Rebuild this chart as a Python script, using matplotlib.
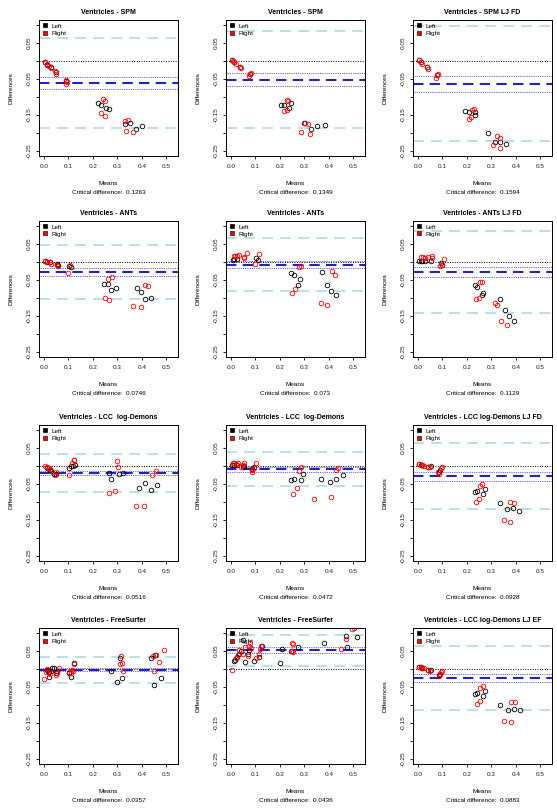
import matplotlib
matplotlib.use("Agg")
import matplotlib.pyplot as plt
from matplotlib.lines import Line2D

plt.rcParams['font.family'] = ['Liberation Sans', 'DejaVu Sans']

TITLES = ["Ventricles - SPM", "Ventricles - SPM", "Ventricles - SPM LJ FD",
          "Ventricles - ANTs", "Ventricles - ANTs", "Ventricles - ANTs LJ FD",
          "Ventricles - LCC  log-Demons", "Ventricles - LCC  log-Demons", "Ventricles - LCC log-Demons LJ FD",
          "Ventricles - FreeSurfer", "Ventricles - FreeSurfer", "Ventricles - LCC log-Demons LJ EF"]
CRIT_DIFF = ["0.1263", "0.1349", "0.1594", "0.0746", "0.073", "0.1129",
             "0.0516", "0.0472", "0.0928", "0.0357", "0.0436", "0.0883"]
BIAS = [-0.061, -0.052, -0.063, -0.027, -0.0075, -0.0275,
        -0.0195, -0.009, -0.028, -0.002, 0.052, -0.025]
CI_HALF = [0.016, 0.018, 0.022, 0.011, 0.009, 0.015,
           0.0065, 0.007, 0.0125, 0.004, 0.008, 0.0115]

X_TICKS = [0.0, 0.1, 0.2, 0.3, 0.4, 0.5]
X_TICK_LABELS = ["0.0", "0.1", "0.2", "0.3", "0.4", "0.5"]
Y_TICKS = [0.1, 0.05, 0.0, -0.05, -0.1, -0.15, -0.2, -0.25]
Y_TICK_LABELS = ["", "0.05", "", "-0.05", "", "-0.15", "", "-0.25"]

# Panel 1
P1_LX = [0.004, 0.014, 0.027, 0.048, 0.09, 0.223, 0.234, 0.253, 0.268, 0.333, 0.353, 0.378, 0.401]
P1_LY = [-0.004, -0.011, -0.018, -0.031, -0.055, -0.118, -0.123, -0.131, -0.134, -0.175, -0.171, -0.188, -0.182]
P1_RX = [0.004, 0.012, 0.02, 0.028, 0.047, 0.049, 0.09, 0.096, 0.09, 0.240, 0.251, 0.233, 0.248, 0.333, 0.344, 0.336, 0.364]
P1_RY = [-0.004, -0.009, -0.014, -0.019, -0.029, -0.035, -0.052, -0.057, -0.065, -0.106, -0.111, -0.145, -0.152, -0.167, -0.165, -0.194, -0.197]
# Panel 2
P2_LX = [0.004, 0.014, 0.038, 0.079, 0.204, 0.215, 0.238, 0.247, 0.299, 0.326, 0.353, 0.383]
P2_LY = [0.004, -0.002, -0.016, -0.037, -0.123, -0.123, -0.131, -0.118, -0.172, -0.190, -0.181, -0.179]
P2_RX = [0.004, 0.009, 0.014, 0.020, 0.038, 0.041, 0.075, 0.079, 0.082, 0.228, 0.234, 0.217, 0.231, 0.303, 0.317, 0.288, 0.323]
P2_RY = [0.004, 0.0005, -0.002, -0.007, -0.016, -0.019, -0.041, -0.037, -0.034, -0.108, -0.112, -0.140, -0.135, -0.172, -0.174, -0.198, -0.202]
# Panel 3
P3_LX = [0.004, 0.011, 0.039, 0.079, 0.194, 0.208, 0.232, 0.234, 0.287, 0.314, 0.337, 0.360]
P3_LY = [0.002, -0.003, -0.017, -0.040, -0.140, -0.141, -0.143, -0.150, -0.201, -0.224, -0.224, -0.231]
P3_RX = [0.004, 0.011, 0.018, 0.039, 0.042, 0.079, 0.083, 0.075, 0.221, 0.228, 0.208, 0.215, 0.323, 0.337, 0.308, 0.334]
P3_RY = [0.002, -0.003, -0.008, -0.017, -0.022, -0.040, -0.035, -0.046, -0.135, -0.133, -0.161, -0.156, -0.209, -0.215, -0.233, -0.243]
# Panel 4
P4_LX = [0.004, 0.014, 0.025, 0.055, 0.058, 0.103, 0.110, 0.244, 0.260, 0.274, 0.295, 0.381, 0.395, 0.415, 0.438]
P4_LY = [0.002, 0.001, -0.001, -0.005, -0.007, -0.012, -0.015, -0.062, -0.062, -0.077, -0.072, -0.071, -0.083, -0.103, -0.099]
P4_RX = [0.004, 0.014, 0.025, 0.027, 0.055, 0.058, 0.105, 0.100, 0.263, 0.278, 0.249, 0.267, 0.415, 0.427, 0.366, 0.397]
P4_RY = [0.002, 0.001, -0.001, -0.005, -0.007, -0.012, -0.008, -0.030, -0.047, -0.043, -0.101, -0.105, -0.064, -0.068, -0.122, -0.125]
# Panel 5
P5_LX = [0.007, 0.014, 0.024, 0.102, 0.109, 0.247, 0.258, 0.283, 0.274, 0.371, 0.394, 0.408, 0.428]
P5_LY = [0.0065, 0.009, 0.008, 0.011, 0.006, -0.031, -0.036, -0.048, -0.065, -0.029, -0.064, -0.080, -0.093]
P5_RX = [0.014, 0.018, 0.024, 0.034, 0.052, 0.054, 0.064, 0.099, 0.113, 0.279, 0.285, 0.249, 0.262, 0.414, 0.424, 0.367, 0.394]
P5_RY = [0.016, 0.018, 0.016, 0.019, 0.011, 0.014, 0.025, -0.005, 0.023, -0.014, -0.012, -0.085, -0.076, -0.026, -0.037, -0.115, -0.120]
# Panel 6
P6_LX = [0.004, 0.011, 0.018, 0.029, 0.052, 0.096, 0.099, 0.232, 0.242, 0.260, 0.266, 0.334, 0.357, 0.371, 0.391]
P6_LY = [0.004, 0.004, 0.004, 0.002, 0.004, -0.003, -0.007, -0.064, -0.070, -0.093, -0.085, -0.104, -0.133, -0.150, -0.163]
P6_RX = [0.011, 0.020, 0.031, 0.042, 0.056, 0.058, 0.092, 0.099, 0.106, 0.255, 0.262, 0.238, 0.249, 0.314, 0.323, 0.340, 0.364]
P6_RY = [0.013, 0.013, 0.011, 0.013, 0.016, 0.011, -0.012, -0.009, 0.008, -0.056, -0.056, -0.102, -0.101, -0.113, -0.119, -0.163, -0.175]
# Panel 7
P7_LX = [0.014, 0.025, 0.028, 0.041, 0.048, 0.103, 0.110, 0.117, 0.127, 0.264, 0.275, 0.306, 0.324, 0.390, 0.413, 0.438, 0.464]
P7_LY = [-0.005, -0.012, -0.014, -0.021, -0.023, -0.005, -0.001, 0.000, 0.002, -0.0195, -0.035, -0.023, -0.0195, -0.060, -0.047, -0.066, -0.052]
P7_RX = [0.004, 0.011, 0.021, 0.025, 0.044, 0.051, 0.103, 0.114, 0.121, 0.124, 0.299, 0.303, 0.266, 0.289, 0.375, 0.409, 0.441, 0.457]
P7_RY = [-0.001, -0.003, -0.006, -0.007, -0.026, -0.017, -0.024, 0.009, 0.018, 0.016, 0.015, -0.003, -0.074, -0.070, -0.112, -0.110, -0.026, -0.014]
# Panel 8
P8_LX = [0.004, 0.014, 0.024, 0.048, 0.052, 0.088, 0.095, 0.245, 0.258, 0.285, 0.296, 0.367, 0.404, 0.431, 0.459]
P8_LY = [0.003, 0.003, 0.003, -0.004, 0.000, -0.009, -0.004, -0.039, -0.035, -0.039, -0.023, -0.036, -0.044, -0.035, -0.025]
P8_RX = [0.007, 0.014, 0.020, 0.027, 0.041, 0.048, 0.054, 0.088, 0.095, 0.102, 0.088, 0.279, 0.288, 0.255, 0.269, 0.340, 0.410, 0.428, 0.438]
P8_RY = [0.0075, 0.0075, 0.0056, 0.0075, -0.002, 0.003, 0.009, -0.016, -0.0065, 0.0075, -0.011, -0.013, -0.004, -0.077, -0.061, -0.093, -0.086, -0.011, -0.0065]
# Panel 9
P9_LX = [0.004, 0.011, 0.018, 0.042, 0.052, 0.088, 0.092, 0.232, 0.242, 0.266, 0.273, 0.334, 0.364, 0.387, 0.414]
P9_LY = [0.005, 0.003, 0.003, -0.002, 0.000, -0.016, -0.011, -0.071, -0.069, -0.079, -0.065, -0.104, -0.120, -0.118, -0.124]
P9_RX = [0.004, 0.011, 0.018, 0.024, 0.042, 0.048, 0.083, 0.088, 0.096, 0.099, 0.255, 0.262, 0.238, 0.249, 0.378, 0.394, 0.351, 0.378]
P9_RY = [0.005, 0.003, 0.003, 0.001, -0.002, -0.004, -0.016, -0.022, -0.0065, -0.004, -0.056, -0.050, -0.099, -0.093, -0.101, -0.102, -0.150, -0.155]
# Panel 10
P10_LX = [0.014, 0.021, 0.028, 0.034, 0.041, 0.048, 0.055, 0.101, 0.110, 0.121, 0.021, 0.275, 0.310, 0.300, 0.321, 0.437, 0.455, 0.448, 0.478]
P10_LY = [-0.003, -0.008, -0.006, 0.004, 0.004, -0.011, -0.006, -0.010, -0.022, 0.017, -0.022, -0.006, 0.031, -0.036, -0.025, 0.031, 0.040, -0.045, -0.025]
P10_RX = [0.000, 0.007, 0.011, 0.017, 0.025, 0.048, 0.055, 0.062, 0.103, 0.110, 0.113, 0.117, 0.121, 0.314, 0.321, 0.311, 0.324, 0.445, 0.459, 0.472, 0.489, 0.448]
P10_RY = [-0.0265, -0.008, 0.001, -0.008, -0.0126, -0.017, -0.010, 0.003, -0.008, -0.010, -0.003, -0.005, 0.0135, 0.037, 0.017, 0.015, -0.006, 0.037, 0.040, 0.020, 0.052, -0.006]
# Panel 11
P11_LX = [0.011, 0.016, 0.024, 0.034, 0.041, 0.050, 0.058, 0.068, 0.075, 0.095, 0.115, 0.129, 0.208, 0.201, 0.245, 0.276, 0.380, 0.469, 0.476, 0.516]
P11_LY = [0.021, 0.025, 0.034, 0.041, 0.050, 0.080, 0.020, 0.043, 0.052, 0.021, 0.034, 0.064, 0.057, 0.018, 0.050, 0.062, 0.071, 0.092, 0.061, 0.089]
P11_RX = [0.003, 0.020, 0.027, 0.034, 0.048, 0.057, 0.068, 0.072, 0.079, 0.082, 0.102, 0.113, 0.120, 0.125, 0.251, 0.255, 0.249, 0.255, 0.451, 0.469, 0.496, 0.505]
P11_RY = [-0.003, 0.030, 0.039, 0.052, 0.041, 0.061, 0.037, 0.064, 0.071, 0.058, 0.030, 0.043, 0.055, 0.063, 0.073, 0.069, 0.050, 0.046, 0.057, 0.083, 0.110, 0.113]
# Panel 12
P12_LX = [0.004, 0.011, 0.018, 0.042, 0.052, 0.088, 0.092, 0.232, 0.242, 0.266, 0.276, 0.337, 0.368, 0.394, 0.418]
P12_LY = [0.005, 0.005, 0.004, -0.004, -0.002, -0.018, -0.014, -0.069, -0.067, -0.076, -0.060, -0.099, -0.115, -0.111, -0.113]
P12_RX = [0.004, 0.011, 0.018, 0.024, 0.042, 0.048, 0.086, 0.092, 0.096, 0.099, 0.255, 0.265, 0.242, 0.253, 0.380, 0.398, 0.353, 0.380]
P12_RY = [0.005, 0.005, 0.004, 0.003, -0.004, -0.0065, -0.020, -0.014, -0.009, -0.005, -0.053, -0.048, -0.097, -0.090, -0.093, -0.093, -0.144, -0.148]

LEFT_X = [P1_LX, P2_LX, P3_LX, P4_LX, P5_LX, P6_LX, P7_LX, P8_LX, P9_LX, P10_LX, P11_LX, P12_LX]
LEFT_Y = [P1_LY, P2_LY, P3_LY, P4_LY, P5_LY, P6_LY, P7_LY, P8_LY, P9_LY, P10_LY, P11_LY, P12_LY]
RIGHT_X = [P1_RX, P2_RX, P3_RX, P4_RX, P5_RX, P6_RX, P7_RX, P8_RX, P9_RX, P10_RX, P11_RX, P12_RX]
RIGHT_Y = [P1_RY, P2_RY, P3_RY, P4_RY, P5_RY, P6_RY, P7_RY, P8_RY, P9_RY, P10_RY, P11_RY, P12_RY]

W, H = 557, 811
fig = plt.figure(figsize=(W / 100, H / 100), dpi=100)
col_left = [39, 226, 413]
row_top = [20, 221, 425, 628]
bw, bh = 139, 136

FS = 4.6
for i in range(12):
    r, c = divmod(i, 3)
    ax = fig.add_axes([col_left[c] / W, 1 - (row_top[r] + bh) / H, bw / W, bh / H])
    ax.set_xlim(-0.02, 0.548)
    ax.set_ylim(-0.264, 0.114)
    b = BIAS[i]
    cd = float(CRIT_DIFF[i])
    ax.axhline(0, color='black', lw=0.7, ls=(0, (1, 1.5)))
    ax.axhline(b + cd, color='#b4dde3', lw=1.3, ls=(0, (6, 4)))
    ax.axhline(b - cd, color='#b4dde3', lw=1.3, ls=(0, (6, 4)))
    ax.axhline(b + CI_HALF[i], color='#3333dd', lw=0.6, ls=(0, (1, 1.2)))
    ax.axhline(b - CI_HALF[i], color='#3333dd', lw=0.6, ls=(0, (1, 1.2)))
    ax.axhline(b, color='#2222cc', lw=1.5, ls=(0, (5, 3)))
    ax.plot(LEFT_X[i], LEFT_Y[i], ls='none', marker='o', ms=3.3, mfc='none', mec='black', mew=0.6)
    ax.plot(RIGHT_X[i], RIGHT_Y[i], ls='none', marker='o', ms=3.3, mfc='none', mec='red', mew=0.6)
    handles = [Line2D([], [], ls='none', marker='s', ms=3.5, mfc='black', mec='black', mew=0.5),
               Line2D([], [], ls='none', marker='s', ms=3.5, mfc='#dd1111', mec='#550000', mew=0.5)]
    ax.legend(handles, ["Left", "Right"], loc='upper left', frameon=False, fontsize=FS,
              handlelength=0.8, handletextpad=0.6, borderaxespad=0.3, labelspacing=0.25,
              borderpad=0.2)
    ax.set_xticks(X_TICKS)
    ax.set_xticklabels(X_TICK_LABELS, fontsize=FS, color='#222222')
    ax.set_yticks(Y_TICKS)
    ax.set_yticklabels(Y_TICK_LABELS, fontsize=FS, rotation=90, va='center', color='#222222')
    ax.tick_params(direction='out', length=2.5, width=0.6, pad=3)
    for s in ax.spines.values():
        s.set_linewidth(0.7)
    ax.set_title(TITLES[i], fontsize=5.0, fontweight='bold', pad=4.5)
    ax.set_ylabel("Differences", fontsize=FS, labelpad=9)
    ax.text(0.5, -0.205, "Means", transform=ax.transAxes, ha='center', va='center', fontsize=FS)
    ax.text(0.5, -0.272, "Critical difference:  " + CRIT_DIFF[i], transform=ax.transAxes,
            ha='center', va='center', fontsize=FS)

fig.savefig("out.png", dpi=100)
